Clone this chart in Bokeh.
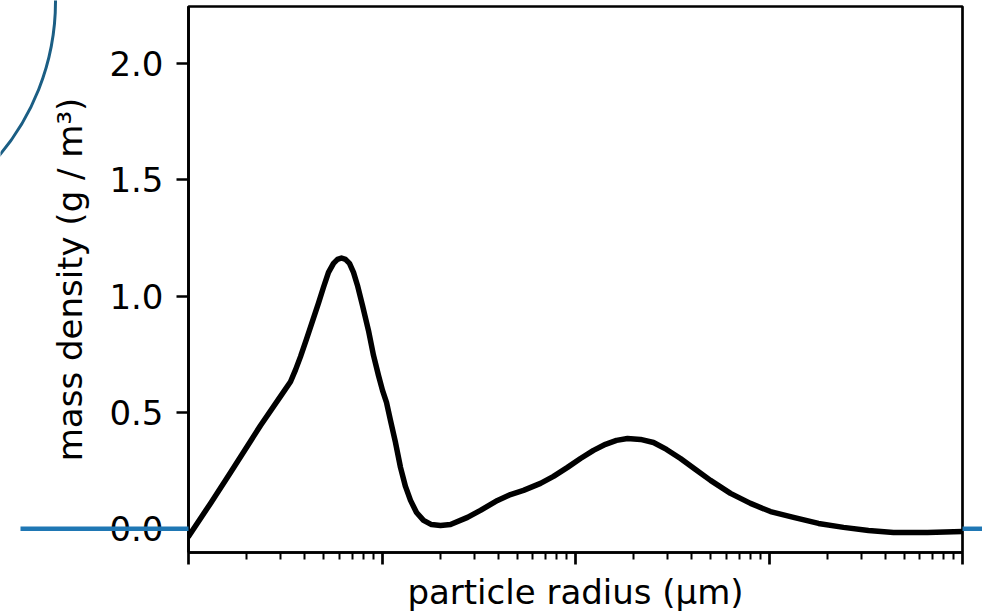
import numpy as np
from bokeh.plotting import figure
from bokeh.core.properties import value
from bokeh.models import (Range1d, FixedTicker, PrintfTickFormatter,
                          CustomJSTickFormatter, Column, Row)
from bokeh.embed import file_html
from bokeh.resources import INLINE

# Size distribution: particle radius (µm) vs. mass density (g / m^3)
radius_um = [0.0100, 0.01299, 0.01649, 0.02356, 0.02988, 0.03366, 0.03573,
             0.03792, 0.04072, 0.04373, 0.04696, 0.04985, 0.05290, 0.05616,
             0.05888, 0.06175, 0.06477, 0.06792, 0.07124, 0.07470, 0.07927,
             0.08515, 0.09040, 0.09592, 0.1006, 0.1055, 0.1106, 0.1174,
             0.1246, 0.1322, 0.1404, 0.1508, 0.1639, 0.1802, 0.2006, 0.2259,
             0.2766, 0.3228, 0.3953, 0.4613, 0.5386, 0.6593, 0.7697, 0.9093,
             1.0612, 1.2388, 1.4289, 1.6289, 1.8567, 2.1677, 2.5298, 2.9531,
             3.4873, 4.1714, 4.9854, 6.3241, 8.0245, 10.18, 13.39, 18.02,
             24.27, 32.67, 43.99, 65.93, 100.0]
mass_density = [-0.033, 0.109, 0.242, 0.444, 0.569, 0.632, 0.683,
                0.740, 0.815, 0.893, 0.970, 1.038, 1.102, 1.141,
                1.158, 1.164, 1.158, 1.141, 1.102, 1.046, 0.960,
                0.852, 0.745, 0.659, 0.595, 0.543, 0.466, 0.371,
                0.264, 0.182, 0.122, 0.070, 0.036, 0.018, 0.014, 0.018,
                0.049, 0.079, 0.122, 0.147, 0.165, 0.195, 0.225, 0.264,
                0.302, 0.337, 0.363, 0.380, 0.388, 0.384, 0.371, 0.341,
                0.302, 0.255, 0.208, 0.152, 0.109, 0.074, 0.049, 0.023,
                0.006, -0.007, -0.016, -0.016, -0.012]

x_major_ticks = [0.01, 0.1, 1.0, 10.0, 100.0]
x_minor_ticks = [m * 10.0 ** e for e in range(-2, 2) for m in range(2, 10)]
y_ticks = [0.0, 0.5, 1.0, 1.5, 2.0]
x_title = "particle radius (μm)"
y_title = "mass density (g / m³)"

FONT = "DejaVu Sans"
BLACK = "#000000"
W, H = 982, 615
BORDER_L, BORDER_R, BORDER_T, BORDER_B = 188, 20, 6, 63
Y_LO, Y_HI = -0.102, 2.245

p = figure(width=W, height=H, x_axis_type="log",
           x_range=Range1d(0.01, 100), y_range=Range1d(Y_LO, Y_HI),
           output_backend="svg", toolbar_location=None,
           min_border_left=BORDER_L, min_border_right=BORDER_R,
           min_border_top=BORDER_T, min_border_bottom=BORDER_B)
p.grid.visible = False
p.background_fill_color = "white"
p.border_fill_color = "white"
p.outline_line_color = BLACK
p.outline_line_width = 2.7

for ax in (p.xaxis[0], p.yaxis[0]):
    ax.axis_line_color = BLACK
    ax.axis_line_width = 2.7
    ax.major_tick_line_color = BLACK
    ax.major_tick_line_width = 2.7
    ax.major_tick_in = 0
    ax.major_tick_out = 12
    ax.minor_tick_line_color = BLACK
    ax.minor_tick_line_width = 2
    ax.minor_tick_in = 0
    ax.minor_tick_out = 7
    ax.major_label_text_font = FONT
    ax.major_label_text_font_size = "34px"
    ax.major_label_text_color = BLACK
    ax.axis_label_text_font = FONT
    ax.axis_label_text_font_size = "34px"
    ax.axis_label_text_font_style = "normal"
    ax.axis_label_text_color = BLACK

p.xaxis.ticker = FixedTicker(ticks=x_major_ticks, minor_ticks=x_minor_ticks)
p.xaxis.formatter = CustomJSTickFormatter(code="return ''")

p.yaxis.ticker = FixedTicker(ticks=y_ticks)
p.yaxis.formatter = PrintfTickFormatter(format="%.1f")
p.yaxis.minor_tick_line_color = None
p.yaxis.major_label_standoff = 13
p.yaxis.axis_label = y_title
p.yaxis.axis_label_standoff = 16

p.line(radius_um, mass_density, line_color=BLACK, line_width=5.5,
       line_join="round", line_cap="round")

# Transparent overlay in canvas pixels for what sits in the margins
deco = figure(width=W, height=H, x_range=Range1d(0, W), y_range=Range1d(H, 0),
              output_backend="svg", toolbar_location=None,
              x_axis_location=None, y_axis_location=None, min_border=0)
deco.grid.visible = False
deco.outline_line_color = None
deco.background_fill_color = None
deco.border_fill_color = None

# zero line: same pixel row as y = 0 on the main axes, visible in both margins
frame_h = H - BORDER_T - BORDER_B
zero_px = BORDER_T + (Y_HI - 0.0) / (Y_HI - Y_LO) * frame_h
deco.segment(x0=[20, W - BORDER_R], y0=[zero_px, zero_px],
             x1=[BORDER_L, W], y1=[zero_px, zero_px],
             line_color="#1f77b4", line_width=4.5)

# decorative ring reaching into the top-left corner
deco.circle(x=[-184.0], y=[1.0], radius=239.0, fill_color=None,
            line_color="#1b5e84", line_width=3)

# x-axis title, centred under the frame near the bottom edge
deco.text(x=[(BORDER_L + W - BORDER_R) / 2], y=[H - 24], text=[x_title],
          text_font=value(FONT), text_font_size="34px", text_color=BLACK,
          text_align="center", text_baseline="middle")

# each plot sits in its own row so their frames are laid out independently;
# the overlay row is pulled up over the chart with a negative top margin
layout = Column(children=[Row(children=[p]),
                          Row(children=[deco], margin=(-H, 0, 0, 0))],
                spacing=0)
open("out.html", "w").write(file_html(layout, INLINE))
